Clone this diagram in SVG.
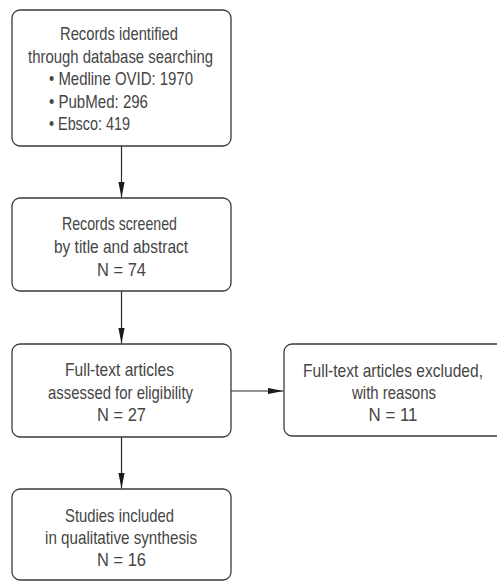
<svg xmlns="http://www.w3.org/2000/svg" width="497" height="581" viewBox="0 0 497 581">
<style>
.box{fill:#fff;stroke:#3a3a3a;stroke-width:1.3}
.t{font-family:"Liberation Sans Narrow","Liberation Sans",Arial,sans-serif;font-size:19px;fill:#454545}
.c{stroke:#2a2a2a;stroke-width:1.2;fill:none}
</style>
<defs>
<marker id="ah" viewBox="0 0 16 8" refX="16" refY="4" markerWidth="16" markerHeight="8" markerUnits="userSpaceOnUse" orient="auto">
<path d="M0,0.8 L16,4 L0,7.2 Z" fill="#1a1a1a"/>
</marker>
</defs>
<rect width="497" height="581" fill="#fff"/>
<g id="connectors">
<line class="c" x1="121.5" y1="146" x2="121.5" y2="197.5" marker-end="url(#ah)"/>
<line class="c" x1="121.5" y1="291" x2="121.5" y2="343.5" marker-end="url(#ah)"/>
<line class="c" x1="121.5" y1="437" x2="121.5" y2="488.5" marker-end="url(#ah)"/>
<line class="c" x1="231" y1="391" x2="283.5" y2="391" marker-end="url(#ah)"/>
</g>
<g id="n1">
<rect class="box" x="12" y="10" width="219" height="136" rx="8"/>
<text class="t" x="60" y="40" textLength="118" lengthAdjust="spacingAndGlyphs">Records identified</text>
<text class="t" x="28" y="62.5" textLength="185" lengthAdjust="spacingAndGlyphs">through database searching</text>
<text class="t" x="49" y="85" textLength="144" lengthAdjust="spacingAndGlyphs">• Medline OVID: 1970</text>
<text class="t" x="49" y="107.5" textLength="99" lengthAdjust="spacingAndGlyphs">• PubMed: 296</text>
<text class="t" x="49" y="130" textLength="81" lengthAdjust="spacingAndGlyphs">• Ebsco: 419</text>
</g>
<g id="n2">
<rect class="box" x="12" y="198" width="219" height="93" rx="8"/>
<text class="t" x="62" y="230" textLength="115" lengthAdjust="spacingAndGlyphs">Records screened</text>
<text class="t" x="54" y="253" textLength="134" lengthAdjust="spacingAndGlyphs">by title and abstract</text>
<text class="t" x="97" y="276" textLength="49" lengthAdjust="spacingAndGlyphs">N = 74</text>
</g>
<g id="n3">
<rect class="box" x="12" y="344" width="219" height="93" rx="8"/>
<text class="t" x="65" y="376" textLength="109" lengthAdjust="spacingAndGlyphs">Full-text articles</text>
<text class="t" x="48" y="398.5" textLength="145" lengthAdjust="spacingAndGlyphs">assessed for eligibility</text>
<text class="t" x="97" y="421" textLength="49" lengthAdjust="spacingAndGlyphs">N = 27</text>
</g>
<g id="n4">
<rect class="box" x="284" y="344" width="240" height="92" rx="8"/>
<text class="t" x="303" y="376.5" textLength="180" lengthAdjust="spacingAndGlyphs">Full-text articles excluded,</text>
<text class="t" x="352" y="398.5" textLength="84" lengthAdjust="spacingAndGlyphs">with reasons</text>
<text class="t" x="368.5" y="421" textLength="49" lengthAdjust="spacingAndGlyphs">N = 11</text>
</g>
<g id="n5">
<rect class="box" x="12" y="489" width="219" height="91" rx="8"/>
<text class="t" x="65" y="522" textLength="109" lengthAdjust="spacingAndGlyphs">Studies included</text>
<text class="t" x="45" y="544" textLength="152" lengthAdjust="spacingAndGlyphs">in qualitative synthesis</text>
<text class="t" x="97" y="566" textLength="49" lengthAdjust="spacingAndGlyphs">N = 16</text>
</g>
</svg>
